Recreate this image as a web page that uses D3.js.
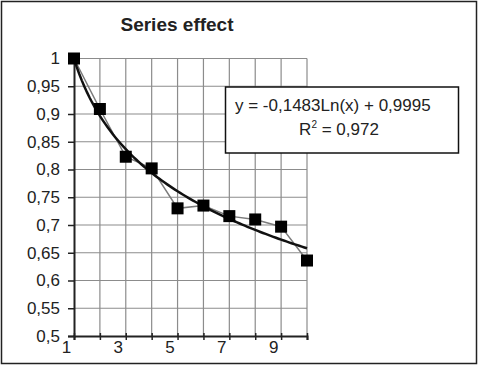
<!DOCTYPE html>
<html><head><meta charset="utf-8">
<script src="https://cdn.jsdelivr.net/npm/d3@7"></script>
<style>
html,body{margin:0;padding:0;background:#fff;}
text{font-family:"Liberation Sans",Arial,sans-serif;fill:#222;}
</style></head>
<body>
<svg id="chart" width="480" height="366"></svg>
<script>
const title = "Series effect";
const xValues = [1, 2, 3, 4, 5, 6, 7, 8, 9, 10];
const yValues = [1.0, 0.909, 0.823, 0.802, 0.730, 0.735, 0.716, 0.710, 0.697, 0.636];
const xTickLabels = [1, 3, 5, 7, 9];
const yTickLabels = [0.5, 0.55, 0.6, 0.65, 0.7, 0.75, 0.8, 0.85, 0.9, 0.95, 1];
const trendSlope = -0.1483;
const trendIntercept = 0.9995;
const equationText = "y = -0,1483Ln(x) + 0,9995";
const r2Text = "0,972";

const svg = d3.select("#chart");
const x = d3.scaleLinear().domain([1, 10]).range([74, 307]);
const y = d3.scaleLinear().domain([0.5, 1]).range([336, 58.5]);
const fmt = v => String(+v.toFixed(2)).replace(".", ",");

// outer frame
svg.append("rect").attr("x", 1.5).attr("y", 1.5).attr("width", 475).attr("height", 362)
  .attr("fill", "#fff").attr("stroke", "#222").attr("stroke-width", 1.5);

// title
svg.append("text").attr("x", 177).attr("y", 31).attr("text-anchor", "middle")
  .attr("font-size", 19).attr("font-weight", "bold").text(title);

// grid
const g = svg.append("g");
g.selectAll("line.hg").data(yTickLabels.filter(v => v > 0.5)).join("line")
  .attr("x1", x(1)).attr("x2", x(10)).attr("y1", d => y(d)).attr("y2", d => y(d))
  .attr("stroke", "#8c8c8c").attr("stroke-width", 1.2);
g.selectAll("line.vg").data(xValues.filter(v => v > 1)).join("line")
  .attr("x1", d => x(d)).attr("x2", d => x(d)).attr("y1", y(1)).attr("y2", y(0.5))
  .attr("stroke", "#8c8c8c").attr("stroke-width", 1.2);

// axes
const yAxis = d3.axisLeft(y).tickValues(yTickLabels).tickFormat(fmt).tickSize(6).tickPadding(8);
const ya = svg.append("g").attr("transform", `translate(${x(1)},0)`).call(yAxis);
ya.select(".domain").attr("stroke", "#222").attr("stroke-width", 2);
ya.selectAll(".tick line").attr("stroke", "#222").attr("stroke-width", 1.5);
ya.selectAll(".tick text").attr("font-size", 17).attr("fill", "#222")
  .style("font-family", '"Liberation Sans",Arial,sans-serif');

const xAxis = d3.axisBottom(x).tickValues(xValues).tickSize(4).tickFormat(d => xTickLabels.includes(d) ? d : "");
const xa = svg.append("g").attr("transform", `translate(0,${y(0.5)})`).call(xAxis);
xa.select(".domain").attr("stroke", "#222").attr("stroke-width", 2);
xa.selectAll(".tick line").attr("stroke", "#222").attr("stroke-width", 1.5).attr("y1", -3).attr("y2", 4);
xa.selectAll(".tick text").attr("font-size", 17).attr("fill", "#222").attr("dx", -8).attr("dy", "0.58em")
  .style("font-family", '"Liberation Sans",Arial,sans-serif');

// data line
const pts = xValues.map((v, i) => [v, yValues[i]]);
svg.append("path").datum(pts)
  .attr("d", d3.line().x(d => x(d[0])).y(d => y(d[1])))
  .attr("fill", "none").attr("stroke", "#7a7a7a").attr("stroke-width", 1.5);

// trendline
const trendPts = d3.range(1, 10.001, 0.1).map(v => [v, trendSlope * Math.log(v) + trendIntercept]);
svg.append("path").datum(trendPts)
  .attr("d", d3.line().x(d => x(d[0])).y(d => y(d[1])))
  .attr("fill", "none").attr("stroke", "#111").attr("stroke-width", 2.5);

// markers
svg.selectAll("rect.m").data(pts).join("rect")
  .attr("x", d => x(d[0]) - 6).attr("y", d => y(d[1]) - 6)
  .attr("width", 12).attr("height", 12).attr("fill", "#000");

// equation box
svg.append("rect").attr("x", 225.5).attr("y", 87).attr("width", 233).attr("height", 66)
  .attr("fill", "#fff").attr("stroke", "#111").attr("stroke-width", 1.5);
svg.append("text").attr("x", 235).attr("y", 111).attr("font-size", 17).text(equationText);
const r2 = svg.append("text").attr("x", 339).attr("y", 135).attr("text-anchor", "middle").attr("font-size", 17);
r2.append("tspan").text("R");
r2.append("tspan").attr("font-size", 10).attr("dy", -7).text("2");
r2.append("tspan").attr("dy", 7).text(" = " + r2Text);
</script>
</body></html>
